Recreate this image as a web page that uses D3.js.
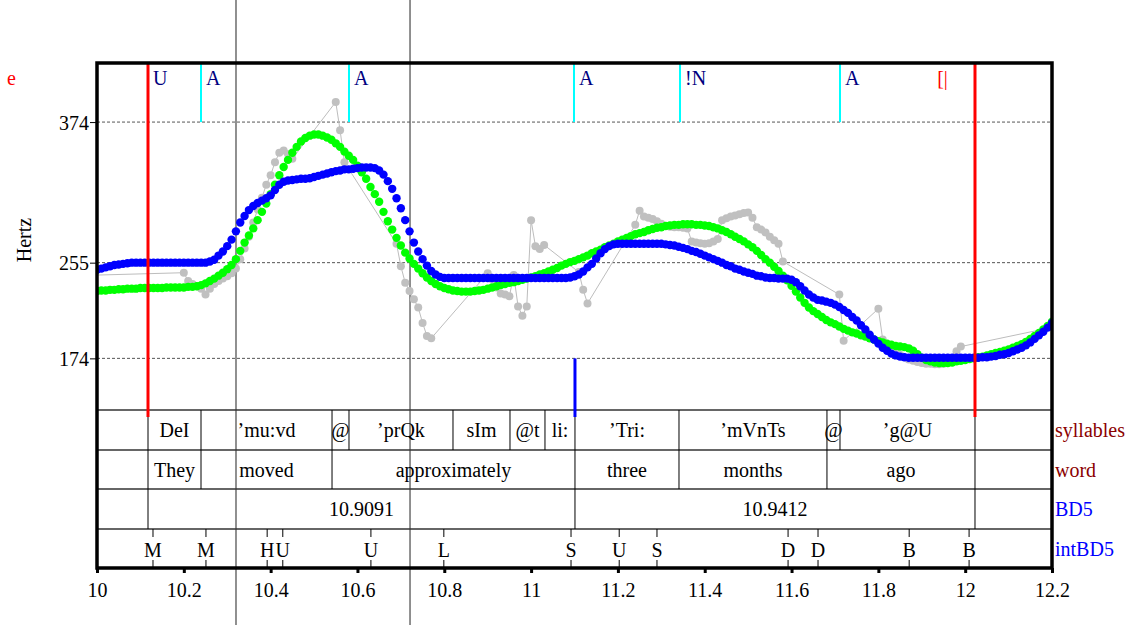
<!DOCTYPE html>
<html><head><meta charset="utf-8">
<script src="https://cdn.jsdelivr.net/npm/d3@7"></script>
<style>
body{margin:0;background:#fff;}
svg{display:block;font-family:"Liberation Serif","Times New Roman",serif;}
</style>
</head><body>
<svg id="c" width="1132" height="625"></svg>
<script>
// ---------------- DATA ----------------
const f0Start = 10.00, f0Step = 0.01;   // sampling of the two smoothed contours
const blueF0 = [
 249,250,251,252,253,253.5,254,254.5,255,255,
 255,255,255,255,255,255,255,255,255,255,
 255,255,255,255,255,255,256,257.5,261,264.5,
 269,274.5,281.5,289,294.5,299.5,303,305.5,307.5,309.5,
 312,316.5,321,323.5,324.5,325,325.5,326,326,326.5,
 327.5,328.5,329.5,330.5,331.5,332.5,333,334,334,334.5,
 335,335.5,335.5,335.5,335,333,329.5,324,317.5,309.5,
 301,291,281.5,272,264.5,258,252.5,248,245,243,
 242,242,242,242,242,242,242,242,242,242,
 242,242,242,242,242,242,242,242,242,242,
 242,242,242,242,242,242,242,242,242,242.5,
 243.5,245,247.5,251,254,258.5,263,266.5,269,270.5,
 271,271,271,271,271,271,271,271,271,271,
 271,270.5,270,269.5,268.5,267.5,266.5,265,264,262.5,
 261,259.5,258,256.5,255,253,252,250,249,247.5,
 246.5,245.5,244,243.5,242.5,242,242,241.5,241.5,241.5,
 240.5,238.5,235,231.5,228,225.5,223.5,223,222,221,
 219.5,217.5,215,212.5,209,206,202,198.5,194,190,
 186.5,183,180.5,178,176.5,175.5,175,174.5,174.5,174.5,
 174.5,174.5,174.5,174.5,174.5,174.5,174.5,174.5,174.5,174.5,
 174.5,174.5,174.5,174.5,175,175,175.5,176,177,177.5,
 178.5,180,181.5,183,185,187.5,190.5,193.5,196.5,200,
 204
];
const greenF0 = [
 231,231.5,231.5,232,232,232.5,232.5,233,233,233,
 233.5,233.5,233.5,233.5,233.5,233.5,234,234,234,234,
 234,234.5,234.5,235,236,237.5,239.5,241.5,244,246.5,
 249.5,253,258,265,272,278,284,291,298,305,
 313,321,329,336,342,348,353,357.5,360.5,362.5,
 363.5,363.5,362.5,361,359,356,353,349,345.5,342,
 337,331.5,326,319,313,306.5,298,290,283,276,
 269.5,263.5,258.5,254,250,246,242.5,239.5,237,235,
 233.5,232.5,231.5,231,230.5,230.5,230.5,231,231.5,232,
 233,234,235,236,237,238,238.5,239.5,240.5,241.5,
 242.5,243.5,245,246,247.5,249,250.5,252.5,254,255.5,
 256.5,258,259.5,261,263,264.5,266,268,269.5,271,
 273,274.5,276,277.5,279,280,281,282.5,283.5,284.5,
 285,286,286.5,287,287,287.5,287.5,287.5,287,287,
 286.5,286,285,284,282.5,281,279,277,275,273,
 270.5,268,265,261.5,258,255,251.5,248,244,240,
 235.5,230.5,225.5,221,217,214,211.5,209,206.5,204.5,
 203,201,199,197.5,196,195,193.5,192.5,191,190,
 188.5,187.5,186.5,185.5,184.5,184,183.5,182.5,180.5,177.5,
 174.5,172.5,171.5,170.5,170,170,170,170.5,171.5,172,
 172.5,173.5,174,175,175.5,176.5,177.5,178.5,179.5,180.5,
 181.5,183,184.5,186,188,190.5,193,195.5,198.5,201.5,
 205
];
// raw pitch points (grey)
const rawT = [9.99,10.20,10.21,10.22,10.23,10.24,10.25,10.26,10.27,10.28,10.29,10.30,10.31,10.32,10.33,10.34,10.35,10.36,10.37,10.38,10.39,10.40,10.41,10.42,10.43,10.44,10.45,
 10.55,10.56,10.57,10.69,10.70,10.71,10.72,10.73,10.74,10.75,10.76,10.77,
 10.90,10.91,10.92,10.93,10.94,10.95,10.96,10.97,10.98,10.99,11.00,11.01,11.02,11.03,
 11.11,11.12,11.13,
 11.24,11.25,11.26,11.27,11.28,11.29,11.30,11.31,11.32,11.33,11.34,11.35,11.36,11.37,11.38,11.39,11.40,11.41,11.42,11.43,11.44,11.45,11.46,11.47,11.48,11.49,11.50,11.51,11.52,11.53,11.54,11.55,11.56,11.57,11.58,
 11.71,11.72,11.80,11.81,11.82,11.83,11.84,11.85,11.86,11.87,11.88,11.89,11.90,11.91,11.92,11.93,11.94,11.95,11.98,11.99,12.21];
const rawF0 = [244.4,246.5,239.5,237,235,233,228,233,237,239.5,241.5,243.5,246,250,258,267,277,289,300,310,321,329,340,348,350,347,343,
 391,367,340,271,252,238,231,224,217,204,193,191,
 246,241,234,229,228,226.5,244.5,218,210,218,291,269,266.5,270,
 247,232,220.5,
 287,299,294,293,292,290,288,286,285.5,285,285,284.5,284,273,272,271.5,271,271.5,273,275,291,292.5,294,295,296,297,297.5,293,285,283,280.5,277,274,271,256,
 228,189,216,190,183,181,179,177,175,173,172,171,170,169.5,169.5,169,169,169.5,180,184,201];

const xTicks = [10,10.2,10.4,10.6,10.8,11,11.2,11.4,11.6,11.8,12,12.2];
const xTickLabels = ["10","10.2","10.4","10.6","10.8","11","11.2","11.4","11.6","11.8","12","12.2"];
const yTicks = [374,255,174];
const yTickLabels = ["374","255","174"];

const syllableBounds = [10.1175,10.2396,10.5414,10.5805,10.8201,10.9514,11.0320,11.1011,11.3407,11.6816,11.7116,12.0226];
const syllableLabels = ["DeI","’mu:vd","@","’prQk","sIm","@t","li:","’Tri:","’mVnTs","@","’g@U"];
const wordBounds = [10.1175,10.2396,10.5414,11.1011,11.3407,11.6816,12.0226];
const wordLabels = ["They","moved","approximately","three","months","ago"];
const bd5Bounds = [10.1175,11.1011,12.0226];
const bd5Labels = ["10.9091","10.9412"];
const intTimes = [10.129,10.251,10.392,10.428,10.631,10.799,11.092,11.203,11.290,11.592,11.661,11.871,12.009];
const intLabels = ["M","M","H","U","U","L","S","U","S","D","D","B","B"];
const tierNames = ["syllables","word","BD5","intBD5"];
const tierColors = ["#8b0000","#8b0000","#0000ff","#0000ff"];

const cyanTimes = [10.2396,10.5805,11.0988,11.3430,11.7116];
const markLabelTimes = [10.1175,10.2396,10.5805,11.0988,11.3430,11.7116,11.924];
const markLabels = ["U","A","A","A","!N","A","[|"];
const markColors = ["#000080","#000080","#000080","#000080","#000080","#000080","#ff0000"];
const redTimes = [10.1175,12.0226];
const blueMarkTime = 11.1011;
const cursorTimes = [10.3202,10.7211];

// ---------------- LAYOUT ----------------
const svg = d3.select("#c");
const L = 97, R = 1052, T = 63, B = 568, P = 410;
const tierY = [410,450,489,529,568];
const x = d3.scaleLinear().domain([10,12.2]).range([L,R]);
const y = d3.scaleLinear().domain([130.3,424]).range([P,T]);

svg.append("defs").append("clipPath").attr("id","pc")
  .append("rect").attr("x",L).attr("y",T).attr("width",R-L).attr("height",P-T);

// dashed grid
svg.append("g").selectAll("line").data(yTicks).join("line")
  .attr("x1",L).attr("x2",R).attr("y1",d=>y(d)).attr("y2",d=>y(d))
  .attr("stroke","#555").attr("stroke-width",1).attr("stroke-dasharray","3,2");

// full-height cursor lines
svg.append("g").selectAll("line").data(cursorTimes).join("line")
  .attr("x1",d=>x(d)).attr("x2",d=>x(d)).attr("y1",0).attr("y2",625)
  .attr("stroke","#555").attr("stroke-width",1.3);

// pitch
const pg = svg.append("g").attr("clip-path","url(#pc)");
const rawData = rawT.map((t,i)=>({t,f:rawF0[i]}));
pg.append("path").datum(rawData)
  .attr("d",d3.line().x(d=>x(d.t)).y(d=>y(d.f)))
  .attr("fill","none").attr("stroke","#bdbdbd").attr("stroke-width",1);
pg.append("g").selectAll("circle").data(rawData).join("circle")
  .attr("cx",d=>x(d.t)).attr("cy",d=>y(d.f)).attr("r",4).attr("fill","#c0c0c0");
pg.append("g").selectAll("circle").data(greenF0).join("circle")
  .attr("cx",(d,i)=>x(f0Start+i*f0Step)).attr("cy",d=>y(d)).attr("r",4.2).attr("fill","#00ff00");
pg.append("g").selectAll("circle").data(blueF0).join("circle")
  .attr("cx",(d,i)=>x(f0Start+i*f0Step)).attr("cy",d=>y(d)).attr("r",4.2).attr("fill","#0000ff");

// tier horizontal lines
svg.append("g").selectAll("line").data(tierY.slice(0,4)).join("line")
  .attr("x1",L).attr("x2",R).attr("y1",d=>d).attr("y2",d=>d)
  .attr("stroke","#333").attr("stroke-width",1.5);

function intervalTier(bounds, labels, row){
  const g = svg.append("g");
  const y0 = tierY[row], y1 = tierY[row+1];
  g.selectAll("line").data(bounds).join("line")
    .attr("x1",d=>x(d)).attr("x2",d=>x(d)).attr("y1",y0).attr("y2",y1)
    .attr("stroke","#000").attr("stroke-width",1);
  g.selectAll("text").data(labels).join("text")
    .attr("x",(d,i)=>(x(bounds[i])+x(bounds[i+1]))/2).attr("y",(y0+y1)/2+7)
    .attr("text-anchor","middle").attr("font-size",20).attr("fill","#000").text(d=>d);
}
intervalTier(syllableBounds, syllableLabels, 0);
intervalTier(wordBounds, wordLabels, 1);
intervalTier(bd5Bounds, bd5Labels, 2);

// point tier
const ptg = svg.append("g");
ptg.selectAll("line.a").data(intTimes).join("line").attr("class","a")
  .attr("x1",d=>x(d)).attr("x2",d=>x(d)).attr("y1",tierY[3]).attr("y2",tierY[3]+8)
  .attr("stroke","#000").attr("stroke-width",1);
ptg.selectAll("line.b").data(intTimes).join("line").attr("class","b")
  .attr("x1",d=>x(d)).attr("x2",d=>x(d)).attr("y1",tierY[4]-8).attr("y2",tierY[4])
  .attr("stroke","#000").attr("stroke-width",1);
ptg.selectAll("text").data(intLabels).join("text")
  .attr("x",(d,i)=>x(intTimes[i])).attr("y",(tierY[3]+tierY[4])/2+8)
  .attr("text-anchor","middle").attr("font-size",20).text(d=>d);

// tier names
svg.append("g").selectAll("text").data(tierNames).join("text")
  .attr("x",R+3).attr("y",(d,i)=>(tierY[i]+tierY[i+1])/2+7)
  .attr("font-size",20).attr("fill",(d,i)=>tierColors[i]).text(d=>d);

// cyan marks
svg.append("g").selectAll("line").data(cyanTimes).join("line")
  .attr("x1",d=>x(d)).attr("x2",d=>x(d)).attr("y1",T).attr("y2",y(374))
  .attr("stroke","#00ffff").attr("stroke-width",2);
svg.append("g").selectAll("text").data(markLabels).join("text")
  .attr("x",(d,i)=>x(markLabelTimes[i])+5).attr("y",85)
  .attr("font-size",20).attr("fill",(d,i)=>markColors[i]).text(d=>d);

// red boundaries and blue mark
svg.append("g").selectAll("line").data(redTimes).join("line")
  .attr("x1",d=>x(d)).attr("x2",d=>x(d)).attr("y1",T).attr("y2",417)
  .attr("stroke","#ff0000").attr("stroke-width",3);
svg.append("line").attr("x1",x(blueMarkTime)).attr("x2",x(blueMarkTime))
  .attr("y1",y(174)).attr("y2",417).attr("stroke","#0000ff").attr("stroke-width",3);

// frame
svg.append("rect").attr("x",L).attr("y",T).attr("width",R-L).attr("height",B-T)
  .attr("fill","none").attr("stroke","#000").attr("stroke-width",3.5);

// x axis
const xa = svg.append("g").attr("transform",`translate(0,${B})`)
  .call(d3.axisBottom(x).tickValues(xTicks).tickFormat((d,i)=>xTickLabels[i]).tickSize(5));
xa.select(".domain").remove();
xa.selectAll(".tick line").attr("stroke","#000").attr("stroke-width",3);
xa.selectAll(".tick text").attr("y",29).attr("dy",0).attr("font-size",20)
  .attr("font-family","Liberation Serif, serif").attr("fill","#000");

// y axis
const ya = svg.append("g").attr("transform",`translate(${L},0)`)
  .call(d3.axisLeft(y).tickValues(yTicks).tickFormat((d,i)=>yTickLabels[i]).tickSize(7));
ya.select(".domain").remove();
ya.selectAll(".tick line").attr("stroke","#000").attr("stroke-width",1);
ya.selectAll(".tick text").attr("x",-8).attr("dy","0.35em").attr("font-size",20)
  .attr("font-family","Liberation Serif, serif").attr("fill","#000");

// labels
svg.append("text").attr("transform","translate(31,240) rotate(-90)")
  .attr("text-anchor","middle").attr("font-size",20).text("Hertz");
svg.append("text").attr("x",7).attr("y",85).attr("font-size",20).attr("fill","#ff0000").text("e");
</script>
</body></html>
